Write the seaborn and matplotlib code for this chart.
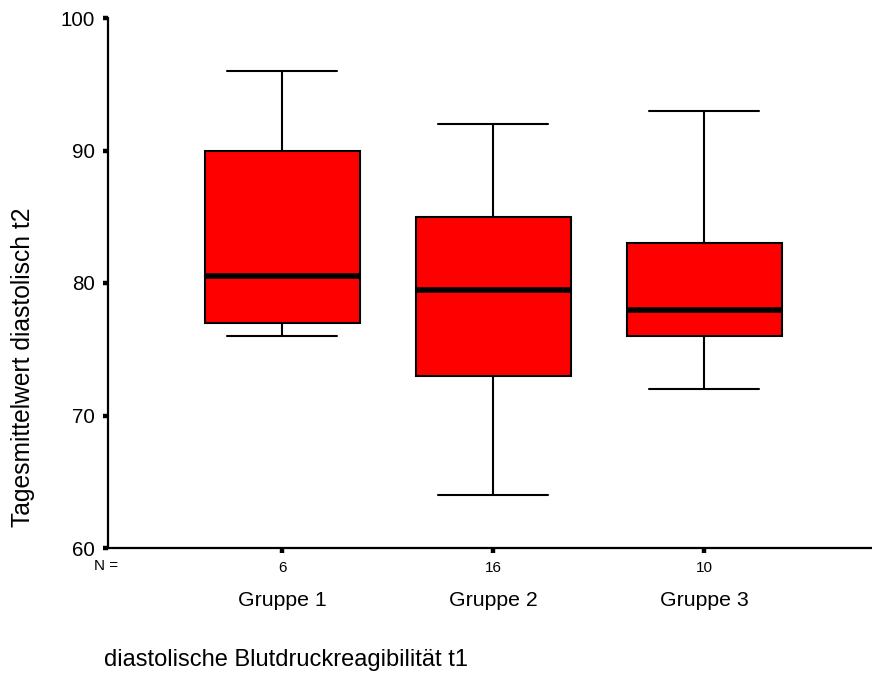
import pandas as pd
import matplotlib
matplotlib.use("Agg")
import matplotlib.pyplot as plt
import seaborn as sns

# five-number summaries (min, Q1, median, Q3, max)
groups = ["Gruppe 1", "Gruppe 2", "Gruppe 3"]
n_counts = ["6", "16", "10"]
gruppe1 = [76, 77, 80.5, 90, 96]
gruppe2 = [64, 73, 79.5, 85, 92]
gruppe3 = [72, 76, 78, 83, 93]

df = pd.DataFrame({
    "gruppe": [groups[0]] * len(gruppe1) + [groups[1]] * len(gruppe2) + [groups[2]] * len(gruppe3),
    "wert": gruppe1 + gruppe2 + gruppe3,
})

sns.set_style("white")
plt.rcParams["font.family"] = ["Liberation Sans", "DejaVu Sans"]
plt.rcParams["text.color"] = "black"
plt.rcParams["axes.labelcolor"] = "black"

W, H = 872, 679
fig = plt.figure(figsize=(W / 100, H / 100), dpi=100)
ax = fig.add_axes([108 / W, (H - 548) / H, (W - 108) / W, (548 - 18) / H])

sns.boxplot(data=df, x="gruppe", y="wert", order=groups, ax=ax,
            color="#ff0000", saturation=1, linecolor="black", linewidth=1.5,
            width=0.735, whis=(0, 100), capwidths=0.52,
            medianprops=dict(linewidth=4, color="black"))

ax.set_xlim(-0.825, 2.796)
ax.set_ylim(60, 100)
ax.set_yticks([60, 70, 80, 90, 100])
ax.set_yticklabels(["60", "70", "80", "90", "100"], fontsize=14.8)
ax.set_xticks([0, 1, 2])
ax.set_xticklabels(n_counts, fontsize=11)

for s in ["top", "right"]:
    ax.spines[s].set_visible(False)
for s in ["left", "bottom"]:
    ax.spines[s].set_linewidth(1.6)
    ax.spines[s].set_color("black")

ax.tick_params(axis="y", left=True, direction="out", length=3.6, width=3.2, pad=6, colors="black")
ax.tick_params(axis="x", bottom=True, direction="out", length=3.6, width=3.2, pad=6, colors="black")

trans = ax.get_xaxis_transform()
for i, g in enumerate(groups):
    ax.text(i, (548 - 601) / 530, g, transform=trans, ha="center", va="center", fontsize=15.3)
ax.text(-0.835, (548 - 566) / 530, "N =", transform=trans, ha="center", va="center", fontsize=11)

ax.set_xlabel("diastolische Blutdruckreagibilität t1", fontsize=17)
ax.xaxis.set_label_coords((286 - 108) / 764, (548 - 660) / 530)
ax.xaxis.label.set_va("center")
ax.set_ylabel("Tagesmittelwert diastolisch t2", fontsize=17.7)
ax.yaxis.set_label_coords((23 - 108) / 764, (548 - 367) / 530)
ax.yaxis.label.set_va("center")

fig.savefig("out.png", dpi=100)
